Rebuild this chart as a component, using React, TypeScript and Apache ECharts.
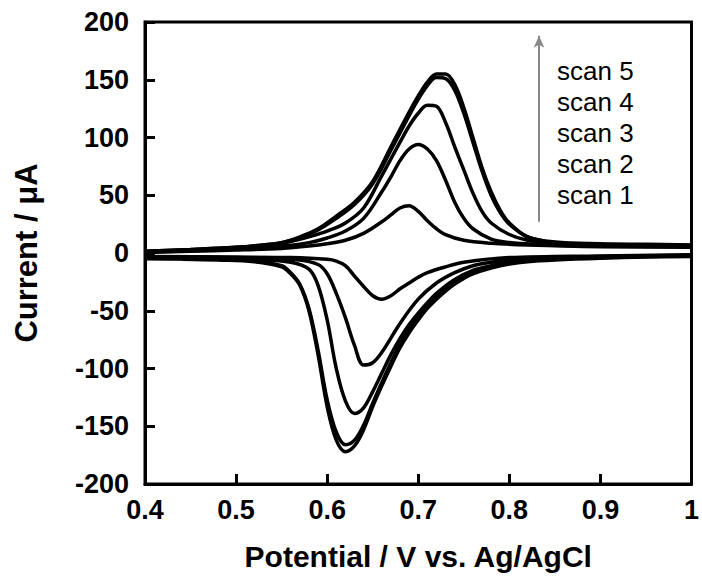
import React, { useEffect, useRef } from 'react';
import * as echarts from 'echarts';

// [potential (V), current (µA)] — anodic (forward) and cathodic (reverse) branches
const scan1Fwd: [number, number][] = [
  [0.40, 0.5], [0.45, 1.5], [0.50, 2.5], [0.55, 4], [0.58, 6], [0.60, 8], [0.62, 11], [0.64, 17],
  [0.66, 27], [0.67, 33], [0.68, 39], [0.69, 41], [0.70, 36], [0.71, 28], [0.72, 21], [0.73, 16],
  [0.75, 11], [0.78, 8.5], [0.82, 7], [0.90, 5.5], [1.00, 5],
];
const scan1Rev: [number, number][] = [
  [1.00, -1.5], [0.90, -2.5], [0.80, -4], [0.75, -8], [0.73, -12], [0.71, -17], [0.70, -21],
  [0.69, -26], [0.68, -31], [0.67, -37], [0.66, -40], [0.65, -37], [0.64, -29], [0.63, -20],
  [0.62, -11], [0.61, -7], [0.60, -5.5], [0.56, -4], [0.50, -3.5], [0.40, -3],
];
const scan2Fwd: [number, number][] = [
  [0.40, 1], [0.45, 2], [0.50, 3.5], [0.55, 6], [0.58, 9], [0.60, 13], [0.62, 19], [0.64, 30],
  [0.66, 53], [0.67, 66], [0.68, 80], [0.69, 90], [0.70, 94], [0.71, 90], [0.72, 80], [0.73, 63],
  [0.74, 44], [0.75, 30], [0.76, 21], [0.78, 12], [0.80, 9], [0.84, 7], [0.90, 6], [1.00, 5.5],
];
const scan2Rev: [number, number][] = [
  [1.00, -2], [0.90, -3], [0.85, -4], [0.80, -6], [0.78, -8], [0.76, -11], [0.74, -17],
  [0.72, -26], [0.70, -40], [0.68, -61], [0.66, -86], [0.65, -95], [0.64, -97], [0.63, -80],
  [0.62, -56], [0.61, -35], [0.60, -18], [0.59, -10], [0.57, -6], [0.53, -4.5], [0.48, -4],
  [0.44, -3.8], [0.40, -3.5],
];
const scan3Fwd: [number, number][] = [
  [0.40, 1], [0.45, 2.5], [0.50, 4], [0.53, 6], [0.56, 10], [0.58, 14], [0.60, 19], [0.62, 26],
  [0.64, 39], [0.66, 67], [0.68, 96], [0.69, 110], [0.70, 121], [0.71, 128], [0.72, 127],
  [0.73, 113], [0.74, 92], [0.75, 72], [0.76, 52], [0.77, 36], [0.78, 26], [0.80, 16],
  [0.82, 11], [0.85, 8], [0.90, 7], [0.95, 6], [1.00, 6],
];
const scan3Rev: [number, number][] = [
  [1.00, -2.5], [0.90, -3.5], [0.85, -5], [0.80, -8], [0.78, -11], [0.76, -15], [0.74, -23],
  [0.72, -35], [0.71, -43], [0.70, -52], [0.69, -62], [0.68, -74], [0.67, -88], [0.66, -104],
  [0.65, -120], [0.64, -134], [0.63, -139], [0.62, -128], [0.61, -100], [0.60, -58], [0.59, -28],
  [0.58, -14], [0.56, -8], [0.52, -5.5], [0.48, -4.5], [0.44, -4.2], [0.40, -4],
];
const scan4Fwd: [number, number][] = [
  [0.40, 1.5], [0.45, 3], [0.50, 5], [0.53, 7], [0.55, 9], [0.57, 13], [0.59, 20], [0.61, 30],
  [0.63, 42], [0.65, 60], [0.67, 89], [0.69, 119], [0.70, 133], [0.71, 145], [0.72, 152],
  [0.73, 151], [0.74, 141], [0.75, 121], [0.76, 96], [0.77, 71], [0.78, 50], [0.79, 35],
  [0.80, 25], [0.82, 14], [0.85, 9], [0.90, 7.5], [0.95, 7], [1.00, 6.5],
];
const scan4Rev: [number, number][] = [
  [1.00, -2.5], [0.95, -3], [0.90, -4], [0.85, -5.5], [0.82, -7], [0.80, -9], [0.78, -12],
  [0.76, -17], [0.75, -21], [0.74, -25], [0.73, -31], [0.72, -38], [0.71, -46], [0.70, -55],
  [0.69, -66], [0.68, -79], [0.67, -95], [0.66, -112], [0.65, -130], [0.64, -149], [0.63, -162],
  [0.62, -166], [0.61, -155], [0.60, -127], [0.59, -84], [0.58, -48], [0.57, -27], [0.56, -17],
  [0.55, -11], [0.52, -7], [0.48, -5.5], [0.44, -4.8], [0.40, -4.5],
];
const scan5Fwd: [number, number][] = [
  [0.40, 1.5], [0.45, 3], [0.50, 5], [0.53, 7], [0.55, 9], [0.57, 14], [0.59, 21], [0.61, 32],
  [0.63, 44], [0.65, 62], [0.67, 92], [0.69, 122], [0.70, 136], [0.71, 148], [0.72, 155],
  [0.73, 155], [0.74, 146], [0.75, 126], [0.76, 100], [0.77, 74], [0.78, 53], [0.79, 37],
  [0.80, 26], [0.82, 14], [0.85, 9.5], [0.90, 8], [0.95, 7.5], [1.00, 7],
];
const scan5Rev: [number, number][] = [
  [1.00, -3], [0.95, -3.5], [0.90, -4.5], [0.85, -6], [0.82, -7.5], [0.80, -9.5], [0.78, -13],
  [0.76, -18], [0.75, -22], [0.74, -27], [0.73, -33], [0.72, -40], [0.71, -48], [0.70, -58],
  [0.69, -69], [0.68, -82], [0.67, -98], [0.66, -115], [0.65, -133], [0.64, -153], [0.63, -167],
  [0.62, -172], [0.61, -162], [0.60, -133], [0.59, -88], [0.58, -50], [0.57, -28], [0.56, -18],
  [0.55, -12], [0.52, -7.5], [0.48, -6], [0.44, -5.3], [0.40, -5],
];

const scanLabels = ['scan 5', 'scan 4', 'scan 3', 'scan 2', 'scan 1'];
const arrowStart: [number, number] = [0.8326, 27];
const arrowEnd: [number, number] = [0.8326, 188];

const FONT = 'Arial, "Liberation Sans", Helvetica, sans-serif';

export default function App() {
  const ref = useRef<HTMLDivElement>(null);
  useEffect(() => {
    document.body.style.margin = '0';
    if (!ref.current) return;
    const chart = echarts.init(ref.current, undefined, { renderer: 'svg' });
    const branches = [scan1Fwd, scan1Rev, scan2Fwd, scan2Rev, scan3Fwd, scan3Rev, scan4Fwd, scan4Rev, scan5Fwd, scan5Rev];
    const series: any[] = branches.map((d, i) => ({
      type: 'line',
      name: 'b' + i,
      data: d,
      smooth: 0.35,
      showSymbol: false,
      symbol: 'none',
      clip: true,
      lineStyle: { color: '#000', width: 3.5 },
      z: 3,
    }));
    series.push({
      type: 'line',
      data: [],
      markLine: {
        silent: true,
        symbol: ['none', 'arrow'],
        symbolSize: [8, 12],
        label: { show: false },
        lineStyle: { color: '#888', width: 2, type: 'solid' },
        data: [[{ coord: arrowStart }, { coord: arrowEnd }]],
      },
    });
    chart.setOption({
      animation: false,
      backgroundColor: '#fff',
      grid: {
        left: 145,
        right: 5,
        top: 22,
        bottom: 92,
        show: true,
        borderColor: '#000',
        borderWidth: 3,
        backgroundColor: 'transparent',
      },
      xAxis: {
        type: 'value',
        min: 0.4,
        max: 1,
        interval: 0.1,
        name: 'Potential / V vs. Ag/AgCl',
        nameLocation: 'middle',
        nameGap: 57,
        nameTextStyle: { fontFamily: FONT, fontWeight: 'bold', fontSize: 30, color: '#000' },
        axisLine: { show: true, onZero: false, lineStyle: { color: '#000', width: 3 } },
        axisTick: { show: true, inside: true, length: 10, lineStyle: { color: '#000', width: 3 } },
        axisLabel: { fontFamily: FONT, fontWeight: 'bold', fontSize: 27, color: '#000', margin: 12 },
        splitLine: { show: false },
      },
      yAxis: {
        type: 'value',
        min: -200,
        max: 200,
        interval: 50,
        name: 'Current / μA',
        nameLocation: 'middle',
        nameGap: 103,
        nameTextStyle: { fontFamily: FONT, fontWeight: 'bold', fontSize: 31, color: '#000' },
        axisLine: { show: true, onZero: false, lineStyle: { color: '#000', width: 3 } },
        axisTick: { show: true, inside: true, length: 10, lineStyle: { color: '#000', width: 3 } },
        axisLabel: { fontFamily: FONT, fontWeight: 'bold', fontSize: 27, color: '#000', margin: 16 },
        splitLine: { show: false },
      },
      graphic: scanLabels.map((t, i) => ({
        type: 'text',
        left: 557,
        top: 58 + i * 31,
        style: { text: t, fontFamily: FONT, fontSize: 26, fill: '#000' },
        z: 10,
      })),
      series,
    });
    return () => chart.dispose();
  }, []);
  return <div ref={ref} style={{ width: 702, height: 576 }} />;
}
